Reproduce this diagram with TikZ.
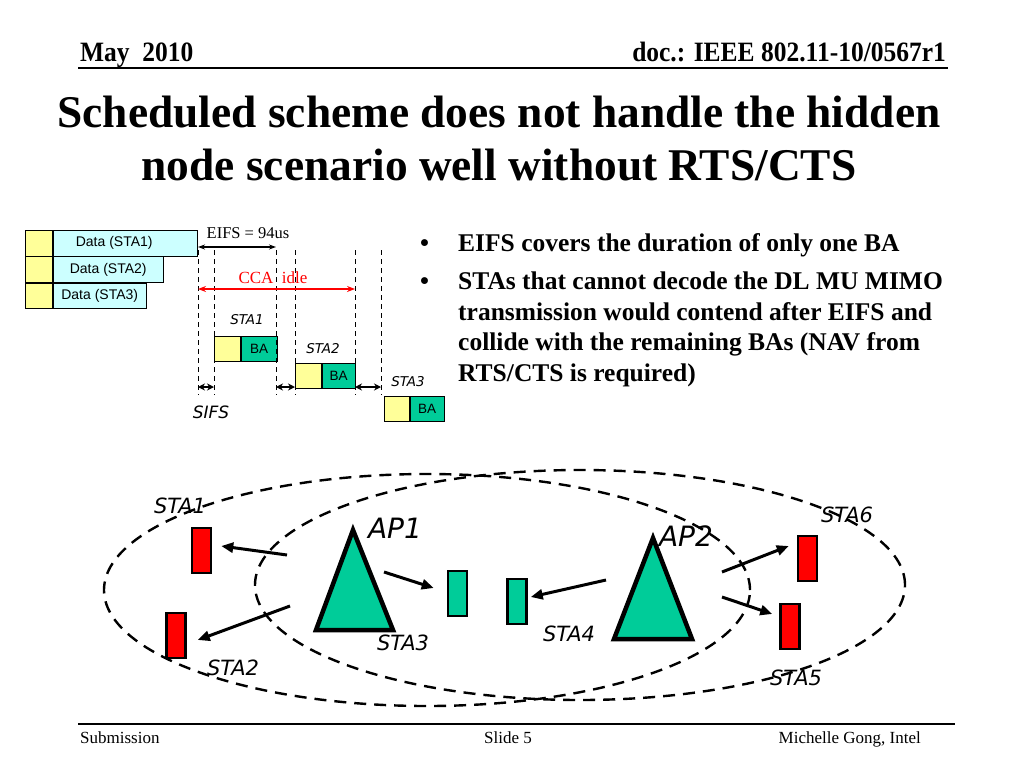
\documentclass[tikz,border=0pt]{standalone}
\usepackage{fontspec}
\setmainfont{Liberation Serif}
\newfontfamily\arialfont{Liberation Sans}
\newfontfamily\verdfont{DejaVu Sans}
\usetikzlibrary{arrows.meta,positioning}

\definecolor{datacyan}{HTML}{CCFFFF}
\definecolor{hdryellow}{HTML}{FFFF99}
\definecolor{bagreen}{HTML}{00CC99}
\definecolor{stared}{HTML}{FF0000}
\definecolor{ccared}{HTML}{FF0000}

\tikzset{
  hdrtext/.style={font=\bfseries\fontsize{28}{28}\selectfont, inner sep=0pt, xscale=0.91},
  titletext/.style={font=\bfseries\fontsize{45.4}{45.4}\selectfont, inner sep=0pt, anchor=base},
  foottext/.style={font=\fontsize{17}{17}\selectfont, inner sep=0pt},
  bullettext/.style={font=\bfseries\fontsize{25.5}{25.5}\selectfont, inner sep=0pt, anchor=base west},
  hdrbox/.style={draw, fill=hdryellow, line width=0.8pt, minimum width=27pt, minimum height=25.5pt, inner sep=0pt, anchor=north west},
  databox/.style={draw, fill=datacyan, line width=0.8pt, minimum height=25.5pt, inner sep=0pt, font=\arialfont\fontsize{14}{14}\selectfont},
  bahdr/.style={hdrbox, minimum width=26pt, minimum height=25pt},
  babox/.style={draw, fill=bagreen, line width=0.8pt, minimum height=25pt, inner sep=0pt, font=\arialfont\fontsize{13.5}{13.5}\selectfont},
  stalbl/.style={font=\verdfont\itshape\fontsize{13.5}{13.5}\selectfont, inner sep=0pt},
  tick/.style={line width=1pt, dash pattern=on 5pt off 4pt},
  gap/.style={line width=1.8pt, {Stealth[length=7pt,width=7pt]}-{Stealth[length=7pt,width=7pt]}},
  netsta/.style={font=\verdfont\itshape\fontsize{21}{21}\selectfont, inner sep=0pt},
  netap/.style={font=\verdfont\itshape\fontsize{28}{28}\selectfont, inner sep=0pt},
  redsta/.style={draw, fill=stared, line width=2.5pt, minimum width=19pt, minimum height=45pt, inner sep=0pt},
  greensta/.style={draw, fill=bagreen, line width=2.5pt, minimum width=19pt, minimum height=45pt, inner sep=0pt},
  coverage/.style={line width=2.4pt, dash pattern=on 12pt off 8pt},
  sig/.style={line width=3pt, -{Triangle[length=12pt,width=10pt]}},
  ap/.style={draw, fill=bagreen, line width=4.5pt, line join=miter}
}

\begin{document}
\begin{tikzpicture}[x=1pt,y=-1pt]
\useasboundingbox[fill=white] (0,0) rectangle (1024,768);

% header and title
\node[hdrtext, anchor=base west] (month) at (80,61) {May\ \ 2010};
\node[hdrtext, anchor=base east] (docnum) at (946,61) {doc.: IEEE 802.11-10/0567r1};
\draw[line width=2pt] (78,68) -- (948,68);
\node[titletext] (title1) at (499,127) {Scheduled scheme does not handle the hidden};
\node[titletext] (title2) at (499,180) {node scenario well without RTS/CTS};

% data frames
\node[hdrbox] (d1h) at (25,230) {};
\node[databox, minimum width=144pt, right=0pt of d1h,
  label={[font=\arialfont\fontsize{14}{14}\selectfont, xshift=-11pt]center:Data (STA1)}] (d1) {};
\node[hdrbox, below=0pt of d1h] (d2h) {};
\node[databox, minimum width=110pt, right=0pt of d2h] (d2) {Data (STA2)};
\node[hdrbox, below=0pt of d2h] (d3h) {};
\node[databox, minimum width=93pt, right=0pt of d3h] (d3) {Data (STA3)};

% block acks
\node[bahdr] (b1h) at (214,336) {};
\node[babox, minimum width=36pt, right=0pt of b1h] (b1) {BA};
\node[bahdr] (b2h) at (295,363) {};
\node[babox, minimum width=33pt, right=0pt of b2h] (b2) {BA};
\node[bahdr, minimum width=25pt] (b3h) at (384,396) {};
\node[babox, minimum width=34pt, right=0pt of b3h] (b3) {BA};
\node[stalbl] (s1lbl) at (247,320) {STA1};
\node[stalbl] (s2lbl) at (323,349) {STA2};
\node[stalbl] (s3lbl) at (408,382) {STA3};

% time marks
\coordinate (t1) at (198,250);
\coordinate (t2) at (214,250);
\coordinate (t3) at (276,250);
\coordinate (t4) at (295,250);
\coordinate (t5) at (355,250);
\coordinate (t6) at (381,250);
\draw[tick] (t1) -- ++(0,145);
\draw[tick] (t2) -- ++(0,145);
\draw[tick] (t3) -- ++(0,145);
\draw[tick] (t4) -- ++(0,145);
\draw[tick] (t5) -- ++(0,145);
\draw[tick] (t6) -- ++(0,145);

\node[font=\fontsize{16.5}{16.5}\selectfont, inner sep=0pt] (eifs) at (248,233) {EIFS = 94us};
\draw[line width=1.2pt, {Stealth[length=7pt,width=5pt]}-{Stealth[length=7pt,width=5pt]}]
  ([yshift=3pt]t1) -- ([yshift=3pt]t3);
\node[font=\fontsize{17}{17}\selectfont, text=ccared, inner sep=0pt] (cca) at (273,278) {CCA\ \ idle};
\draw[line width=1.6pt, ccared, {Stealth[length=8pt,width=6pt]}-{Stealth[length=8pt,width=6pt]}]
  ([yshift=-39pt]t1) -- ([yshift=-39pt]t5);
\draw[gap] ([yshift=-137pt]t1) -- ([yshift=-137pt]t2);
\draw[gap] ([yshift=-137pt]t3) -- ([yshift=-137pt]t4);
\draw[gap] ([yshift=-137pt]t5) -- ([yshift=-137pt]t6);
\node[font=\verdfont\itshape\fontsize{17}{17}\selectfont, inner sep=0pt] (sifs) at (211,412) {SIFS};

% bullets
\node[bullettext] (dot1) at (420,251) {\textbullet};
\node[bullettext] (txt1) at (458,251) {EIFS covers the duration of only one BA};
\node[bullettext] (dot2) at (420,289) {\textbullet};
\node[bullettext] (txt2a) at (458,289) {STAs that cannot decode the DL MU MIMO};
\node[bullettext] (txt2b) at (458,320) {transmission would contend after EIFS and};
\node[bullettext] (txt2c) at (458,350) {collide with the remaining BAs (NAV from};
\node[bullettext] (txt2d) at (458,381) {RTS/CTS is required)};

% coverage areas
\draw[coverage] (427,590) ellipse [x radius=323pt, y radius=116pt];
\draw[coverage] (580,585) ellipse [x radius=325pt, y radius=115pt];

% access points
\draw[ap] (353,530) -- (393,630) -- (316,630) -- cycle;
\draw[ap] (653,538) -- (692,639) -- (614,639) -- cycle;
\coordinate (ap1a) at (287,555);
\coordinate (ap1b) at (290,606);
\coordinate (ap1c) at (384,572);
\coordinate (ap2a) at (606,580);
\coordinate (ap2b) at (722,572);
\coordinate (ap2c) at (722,597);
\node[netap] (ap1lbl) at (395,528) {AP1};
\node[netap] (ap2lbl) at (686,536) {AP2};

% stations
\node[redsta] (sta1) at (201.5,550.5) {};
\node[redsta] (sta2) at (176,635.5) {};
\node[greensta] (sta3) at (457.5,593.5) {};
\node[greensta] (sta4) at (517,601.5) {};
\node[redsta] (sta5) at (790,626.5) {};
\node[redsta] (sta6) at (807.5,558.5) {};
\node[netsta] (sta1lbl) at (180,506) {STA1};
\node[netsta] (sta2lbl) at (233,668) {STA2};
\node[netsta] (sta3lbl) at (403,643) {STA3};
\node[netsta] (sta4lbl) at (569,634) {STA4};
\node[netsta] (sta5lbl) at (796,678) {STA5};
\node[netsta] (sta6lbl) at (847,515) {STA6};

\draw[sig] (ap1a) -- ([xshift=9pt,yshift=4.5pt]sta1.east);
\draw[sig] (ap1b) -- ([xshift=11pt,yshift=-4.5pt]sta2.east);
\draw[sig] (ap1c) -- ([xshift=-13pt,yshift=5.5pt]sta3.west);
\draw[sig] (ap2a) -- ([xshift=3pt,yshift=4.5pt]sta4.east);
\draw[sig] (ap2b) -- ([xshift=-8pt,yshift=12.5pt]sta6.west);
\draw[sig] (ap2c) -- ([xshift=-7pt,yshift=12.5pt]sta5.west);

% footer
\draw[line width=1.5pt] (78,724) -- (955,724);
\node[foottext, anchor=base west] (sub) at (80,743) {Submission};
\node[foottext, anchor=base] (slide) at (508,743) {Slide 5};
\node[foottext, anchor=base east] (auth) at (921,743) {Michelle Gong, Intel};
\end{tikzpicture}
\end{document}
